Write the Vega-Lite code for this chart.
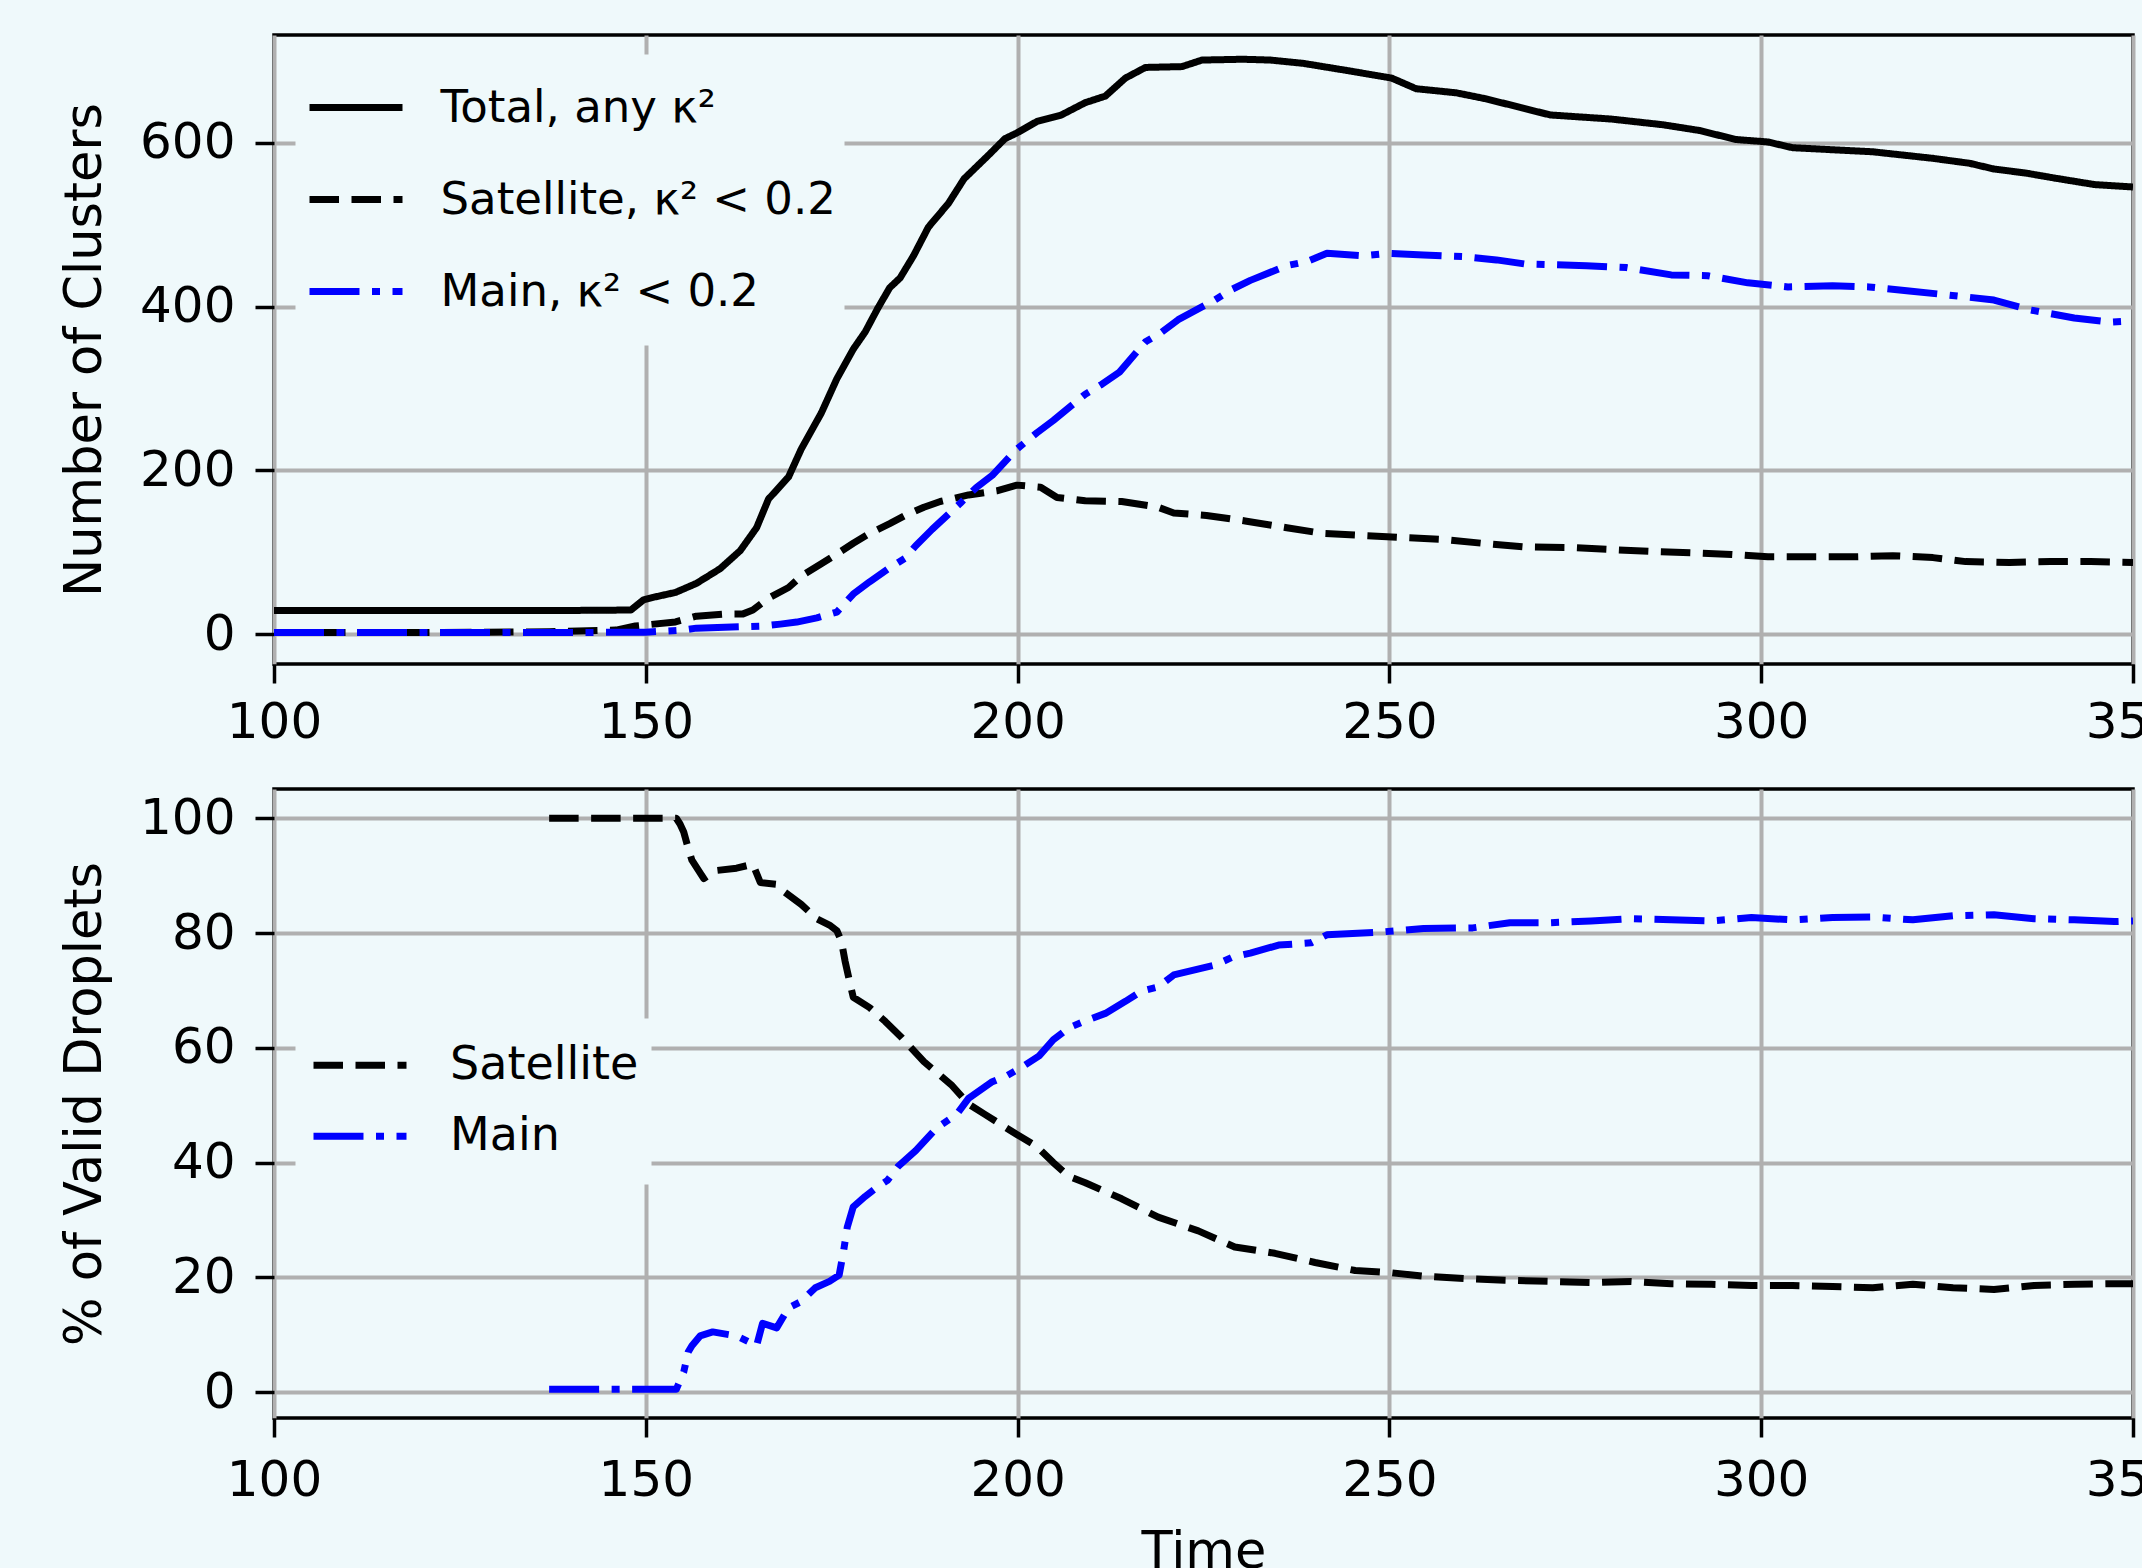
{
"$schema": "https://vega.github.io/schema/vega-lite/v6.json",
"autosize": {"type": "pad"},
"padding": {"left": 57, "top": 33, "right": -37, "bottom": -10},
"background": "#eff9fb",
"bounds": "flush",
"spacing": 125,
"config": {
  "font": "DejaVu Sans",
  "view": {"stroke": "black", "strokeWidth": 3.5},
  "axis": {
    "domain": false, "grid": true, "gridColor": "#b0b0b0", "gridWidth": 4,
    "ticks": true, "tickColor": "black", "tickWidth": 3.5, "tickSize": 19,
    "labelFont": "DejaVu Sans", "labelFontSize": 50, "labelColor": "black",
    "labelFlush": false, "labelOverlap": false, "labelBound": false,
    "titleFont": "DejaVu Sans", "titleFontSize": 51, "titleFontWeight": "normal", "titleColor": "black"
  },
  "axisY": {"labelPadding": 20, "titlePadding": 28},
  "legend": {"labelLimit": 0},
  "line": {"strokeWidth": 7, "strokeJoin": "round", "strokeCap": "butt"}
},
"datasets": {
  "top": [
    {"s":"Total, any κ²","t":100,"v":29},{"s":"Total, any κ²","t":120,"v":29},{"s":"Total, any κ²","t":140,"v":29},{"s":"Total, any κ²","t":148,"v":29.5},
    {"s":"Total, any κ²","t":149.7,"v":42},{"s":"Total, any κ²","t":151,"v":45},{"s":"Total, any κ²","t":154,"v":51},{"s":"Total, any κ²","t":156.8,"v":62},
    {"s":"Total, any κ²","t":160,"v":80},{"s":"Total, any κ²","t":162.7,"v":102},{"s":"Total, any κ²","t":164.9,"v":130},{"s":"Total, any κ²","t":166.5,"v":165},
    {"s":"Total, any κ²","t":169.2,"v":192},{"s":"Total, any κ²","t":170.9,"v":226},{"s":"Total, any κ²","t":173.6,"v":270},{"s":"Total, any κ²","t":175.7,"v":312},
    {"s":"Total, any κ²","t":177.9,"v":348},{"s":"Total, any κ²","t":179.5,"v":369},{"s":"Total, any κ²","t":181.2,"v":398},{"s":"Total, any κ²","t":182.8,"v":423},
    {"s":"Total, any κ²","t":184.2,"v":435},{"s":"Total, any κ²","t":186,"v":462},{"s":"Total, any κ²","t":188,"v":497},{"s":"Total, any κ²","t":190.7,"v":526},
    {"s":"Total, any κ²","t":192.8,"v":556},{"s":"Total, any κ²","t":196.1,"v":585},{"s":"Total, any κ²","t":198.3,"v":605},{"s":"Total, any κ²","t":199.9,"v":612},
    {"s":"Total, any κ²","t":202.6,"v":626},{"s":"Total, any κ²","t":205.9,"v":634},{"s":"Total, any κ²","t":209.1,"v":649},{"s":"Total, any κ²","t":211.8,"v":657},
    {"s":"Total, any κ²","t":214.5,"v":679},{"s":"Total, any κ²","t":217.2,"v":692},{"s":"Total, any κ²","t":222.1,"v":693},{"s":"Total, any κ²","t":224.8,"v":701},
    {"s":"Total, any κ²","t":230.3,"v":702},{"s":"Total, any κ²","t":234,"v":701},{"s":"Total, any κ²","t":238.4,"v":697},{"s":"Total, any κ²","t":243.8,"v":689},
    {"s":"Total, any κ²","t":250.3,"v":679},{"s":"Total, any κ²","t":253.6,"v":666},{"s":"Total, any κ²","t":259,"v":661},{"s":"Total, any κ²","t":262.8,"v":654},
    {"s":"Total, any κ²","t":267.7,"v":643},{"s":"Total, any κ²","t":271.6,"v":634},{"s":"Total, any κ²","t":279.8,"v":629},{"s":"Total, any κ²","t":286.8,"v":622},
    {"s":"Total, any κ²","t":291.7,"v":615},{"s":"Total, any κ²","t":296.6,"v":604},{"s":"Total, any κ²","t":300.9,"v":601},{"s":"Total, any κ²","t":304.2,"v":594},
    {"s":"Total, any κ²","t":315,"v":589},{"s":"Total, any κ²","t":323.1,"v":581},{"s":"Total, any κ²","t":328,"v":575},{"s":"Total, any κ²","t":331.3,"v":568},
    {"s":"Total, any κ²","t":335.6,"v":563},{"s":"Total, any κ²","t":339.4,"v":557},{"s":"Total, any κ²","t":344.8,"v":549},{"s":"Total, any κ²","t":350,"v":546},

    {"s":"Satellite, κ² < 0.2","t":100,"v":2},{"s":"Satellite, κ² < 0.2","t":120,"v":2},{"s":"Satellite, κ² < 0.2","t":137,"v":3},{"s":"Satellite, κ² < 0.2","t":146,"v":5},
    {"s":"Satellite, κ² < 0.2","t":148.6,"v":10},{"s":"Satellite, κ² < 0.2","t":154,"v":15},{"s":"Satellite, κ² < 0.2","t":156.8,"v":22},{"s":"Satellite, κ² < 0.2","t":160.6,"v":24.5},
    {"s":"Satellite, κ² < 0.2","t":163,"v":24.5},{"s":"Satellite, κ² < 0.2","t":164.4,"v":29.5},{"s":"Satellite, κ² < 0.2","t":166.5,"v":44},{"s":"Satellite, κ² < 0.2","t":169.2,"v":57},
    {"s":"Satellite, κ² < 0.2","t":170.9,"v":71},{"s":"Satellite, κ² < 0.2","t":173.6,"v":86},{"s":"Satellite, κ² < 0.2","t":175.7,"v":98},{"s":"Satellite, κ² < 0.2","t":177.9,"v":111},
    {"s":"Satellite, κ² < 0.2","t":180.1,"v":123},{"s":"Satellite, κ² < 0.2","t":182.8,"v":135},{"s":"Satellite, κ² < 0.2","t":184.9,"v":145},{"s":"Satellite, κ² < 0.2","t":187.4,"v":155},
    {"s":"Satellite, κ² < 0.2","t":189.6,"v":162},{"s":"Satellite, κ² < 0.2","t":193.4,"v":170},{"s":"Satellite, κ² < 0.2","t":197.2,"v":175},{"s":"Satellite, κ² < 0.2","t":199.9,"v":182},
    {"s":"Satellite, κ² < 0.2","t":203.1,"v":179.5},{"s":"Satellite, κ² < 0.2","t":205.3,"v":167},{"s":"Satellite, κ² < 0.2","t":209.1,"v":163},{"s":"Satellite, κ² < 0.2","t":214,"v":162},
    {"s":"Satellite, κ² < 0.2","t":218.9,"v":155},{"s":"Satellite, κ² < 0.2","t":221,"v":148},{"s":"Satellite, κ² < 0.2","t":225.4,"v":145},{"s":"Satellite, κ² < 0.2","t":230.8,"v":138},
    {"s":"Satellite, κ² < 0.2","t":236.2,"v":130},{"s":"Satellite, κ² < 0.2","t":241.1,"v":123},{"s":"Satellite, κ² < 0.2","t":246.5,"v":120.5},{"s":"Satellite, κ² < 0.2","t":251.9,"v":118},
    {"s":"Satellite, κ² < 0.2","t":257.4,"v":115.6},{"s":"Satellite, κ² < 0.2","t":262.8,"v":110.7},{"s":"Satellite, κ² < 0.2","t":268.2,"v":106.5},{"s":"Satellite, κ² < 0.2","t":274.3,"v":105.8},
    {"s":"Satellite, κ² < 0.2","t":279.8,"v":103.4},{"s":"Satellite, κ² < 0.2","t":285.2,"v":101},{"s":"Satellite, κ² < 0.2","t":290.6,"v":99.4},{"s":"Satellite, κ² < 0.2","t":296,"v":97.4},
    {"s":"Satellite, κ² < 0.2","t":300.9,"v":94.5},{"s":"Satellite, κ² < 0.2","t":306.9,"v":94.5},{"s":"Satellite, κ² < 0.2","t":312.3,"v":94.5},{"s":"Satellite, κ² < 0.2","t":317.7,"v":95.9},
    {"s":"Satellite, κ² < 0.2","t":323.1,"v":93.5},{"s":"Satellite, κ² < 0.2","t":327.5,"v":88.6},{"s":"Satellite, κ² < 0.2","t":333.4,"v":87.6},{"s":"Satellite, κ² < 0.2","t":338.9,"v":88.6},
    {"s":"Satellite, κ² < 0.2","t":344.3,"v":88.6},{"s":"Satellite, κ² < 0.2","t":350,"v":87.6},

    {"s":"Main, κ² < 0.2","t":100,"v":2},{"s":"Main, κ² < 0.2","t":120,"v":2},{"s":"Main, κ² < 0.2","t":140,"v":2},{"s":"Main, κ² < 0.2","t":150,"v":2.5},
    {"s":"Main, κ² < 0.2","t":155,"v":5},{"s":"Main, κ² < 0.2","t":156.8,"v":7.4},{"s":"Main, κ² < 0.2","t":165.7,"v":9.9},{"s":"Main, κ² < 0.2","t":168.1,"v":12.3},
    {"s":"Main, κ² < 0.2","t":170.3,"v":14.8},{"s":"Main, κ² < 0.2","t":173,"v":20},{"s":"Main, κ² < 0.2","t":175.7,"v":27},{"s":"Main, κ² < 0.2","t":177.9,"v":49},
    {"s":"Main, κ² < 0.2","t":180.1,"v":64},{"s":"Main, κ² < 0.2","t":182.8,"v":81},{"s":"Main, κ² < 0.2","t":184.9,"v":93},{"s":"Main, κ² < 0.2","t":186.3,"v":108},
    {"s":"Main, κ² < 0.2","t":188.5,"v":128},{"s":"Main, κ² < 0.2","t":192.3,"v":160},{"s":"Main, κ² < 0.2","t":194.5,"v":179.5},{"s":"Main, κ² < 0.2","t":196.6,"v":194},
    {"s":"Main, κ² < 0.2","t":199.9,"v":226},{"s":"Main, κ² < 0.2","t":202.6,"v":246},{"s":"Main, κ² < 0.2","t":204.8,"v":261},{"s":"Main, κ² < 0.2","t":209.1,"v":293},
    {"s":"Main, κ² < 0.2","t":211.3,"v":305},{"s":"Main, κ² < 0.2","t":213.7,"v":320},{"s":"Main, κ² < 0.2","t":217.2,"v":357},{"s":"Main, κ² < 0.2","t":219.4,"v":369},
    {"s":"Main, κ² < 0.2","t":221.6,"v":384},{"s":"Main, κ² < 0.2","t":226.5,"v":408},{"s":"Main, κ² < 0.2","t":228.6,"v":420},{"s":"Main, κ² < 0.2","t":231.3,"v":432},
    {"s":"Main, κ² < 0.2","t":236.2,"v":450},{"s":"Main, κ² < 0.2","t":238.9,"v":455},{"s":"Main, κ² < 0.2","t":241.6,"v":465},{"s":"Main, κ² < 0.2","t":246.5,"v":462},
    {"s":"Main, κ² < 0.2","t":249.8,"v":465},{"s":"Main, κ² < 0.2","t":254.6,"v":463},{"s":"Main, κ² < 0.2","t":260.1,"v":461},{"s":"Main, κ² < 0.2","t":264.4,"v":457},
    {"s":"Main, κ² < 0.2","t":268.2,"v":452},{"s":"Main, κ² < 0.2","t":276.5,"v":450},{"s":"Main, κ² < 0.2","t":281.9,"v":447.6},{"s":"Main, κ² < 0.2","t":287.9,"v":438.7},
    {"s":"Main, κ² < 0.2","t":292.8,"v":437.7},{"s":"Main, κ² < 0.2","t":298.2,"v":429},{"s":"Main, κ² < 0.2","t":303.6,"v":424},{"s":"Main, κ² < 0.2","t":309.6,"v":425.4},
    {"s":"Main, κ² < 0.2","t":314.5,"v":424},{"s":"Main, κ² < 0.2","t":319.9,"v":419},{"s":"Main, κ² < 0.2","t":325.3,"v":414},{"s":"Main, κ² < 0.2","t":331.3,"v":408},
    {"s":"Main, κ² < 0.2","t":336.1,"v":396},{"s":"Main, κ² < 0.2","t":342.1,"v":386},{"s":"Main, κ² < 0.2","t":347,"v":381},{"s":"Main, κ² < 0.2","t":350,"v":382.6}
  ],
  "bottom": [
    {"s":"Satellite","t":137,"v":100},{"s":"Satellite","t":145,"v":100},{"s":"Satellite","t":154.1,"v":100},{"s":"Satellite","t":154.6,"v":99},
    {"s":"Satellite","t":155.1,"v":97.6},{"s":"Satellite","t":155.7,"v":94.8},{"s":"Satellite","t":156.2,"v":92.7},{"s":"Satellite","t":157.8,"v":89.5},
    {"s":"Satellite","t":159.5,"v":90.9},{"s":"Satellite","t":162.2,"v":91.3},{"s":"Satellite","t":164.4,"v":92},{"s":"Satellite","t":165.4,"v":88.8},
    {"s":"Satellite","t":167.6,"v":88.5},{"s":"Satellite","t":168.7,"v":87.1},{"s":"Satellite","t":170.9,"v":85},{"s":"Satellite","t":173,"v":82.5},
    {"s":"Satellite","t":174.7,"v":81.4},{"s":"Satellite","t":175.7,"v":80.4},{"s":"Satellite","t":176.3,"v":78.6},{"s":"Satellite","t":176.8,"v":75.1},
    {"s":"Satellite","t":177.4,"v":71.6},{"s":"Satellite","t":177.9,"v":68.8},{"s":"Satellite","t":180.1,"v":67},{"s":"Satellite","t":182.2,"v":64.6},
    {"s":"Satellite","t":184.4,"v":61.8},{"s":"Satellite","t":187.4,"v":57.6},{"s":"Satellite","t":191.2,"v":53.4},{"s":"Satellite","t":193.4,"v":50.2},
    {"s":"Satellite","t":195.6,"v":48.4},{"s":"Satellite","t":199.9,"v":44.9},{"s":"Satellite","t":202.6,"v":42.8},{"s":"Satellite","t":204.8,"v":40},
    {"s":"Satellite","t":206.9,"v":37.6},{"s":"Satellite","t":209.1,"v":36.5},{"s":"Satellite","t":214,"v":33.7},{"s":"Satellite","t":218.9,"v":30.5},
    {"s":"Satellite","t":224.3,"v":28.1},{"s":"Satellite","t":229.2,"v":25.3},{"s":"Satellite","t":234.6,"v":24.2},{"s":"Satellite","t":240,"v":22.6},
    {"s":"Satellite","t":245.4,"v":21.2},{"s":"Satellite","t":250.3,"v":20.8},{"s":"Satellite","t":254.6,"v":20.2},{"s":"Satellite","t":260.1,"v":19.8},
    {"s":"Satellite","t":265.5,"v":19.5},{"s":"Satellite","t":271.6,"v":19.3},{"s":"Satellite","t":277.1,"v":19.1},{"s":"Satellite","t":282.5,"v":19.3},
    {"s":"Satellite","t":287.9,"v":18.9},{"s":"Satellite","t":293.3,"v":18.8},{"s":"Satellite","t":298.7,"v":18.6},{"s":"Satellite","t":304.2,"v":18.6},
    {"s":"Satellite","t":309.6,"v":18.4},{"s":"Satellite","t":315,"v":18.2},{"s":"Satellite","t":320.4,"v":18.8},{"s":"Satellite","t":325.8,"v":18.2},
    {"s":"Satellite","t":331.3,"v":17.9},{"s":"Satellite","t":336.7,"v":18.6},{"s":"Satellite","t":342.1,"v":18.8},{"s":"Satellite","t":347.5,"v":18.9},
    {"s":"Satellite","t":350,"v":18.9},

    {"s":"Main","t":137,"v":0.5},{"s":"Main","t":145,"v":0.5},{"s":"Main","t":154.1,"v":0.5},{"s":"Main","t":155.1,"v":3.5},
    {"s":"Main","t":155.7,"v":7},{"s":"Main","t":156.2,"v":8.1},{"s":"Main","t":157.3,"v":9.8},{"s":"Main","t":159,"v":10.5},
    {"s":"Main","t":162.2,"v":9.8},{"s":"Main","t":164.9,"v":8.1},{"s":"Main","t":165.7,"v":12},{"s":"Main","t":167.6,"v":11.2},
    {"s":"Main","t":169.2,"v":14.7},{"s":"Main","t":170.9,"v":15.8},{"s":"Main","t":172.8,"v":18.2},{"s":"Main","t":174.7,"v":19.3},
    {"s":"Main","t":176,"v":20.4},{"s":"Main","t":176.6,"v":24.6},{"s":"Main","t":177.1,"v":28.8},{"s":"Main","t":177.9,"v":32.3},
    {"s":"Main","t":179.5,"v":34.1},{"s":"Main","t":181.2,"v":35.8},{"s":"Main","t":182.5,"v":36.9},{"s":"Main","t":183.9,"v":39.3},
    {"s":"Main","t":186.3,"v":42.1},{"s":"Main","t":189.1,"v":46},{"s":"Main","t":191.8,"v":48.4},{"s":"Main","t":193.4,"v":51.2},
    {"s":"Main","t":196.6,"v":54.1},{"s":"Main","t":198.5,"v":55.1},{"s":"Main","t":200.4,"v":56.5},{"s":"Main","t":202.9,"v":58.6},
    {"s":"Main","t":204.8,"v":61.4},{"s":"Main","t":206.9,"v":63.5},{"s":"Main","t":209.1,"v":64.7},{"s":"Main","t":211.8,"v":66},
    {"s":"Main","t":214.5,"v":68.1},{"s":"Main","t":216.7,"v":69.9},{"s":"Main","t":218.9,"v":70.6},{"s":"Main","t":221,"v":72.7},
    {"s":"Main","t":226.5,"v":74.4},{"s":"Main","t":228.9,"v":75.8},{"s":"Main","t":231.3,"v":76.5},{"s":"Main","t":235.1,"v":77.9},
    {"s":"Main","t":239.5,"v":78.3},{"s":"Main","t":241.6,"v":79.7},{"s":"Main","t":248.1,"v":80.1},{"s":"Main","t":254.6,"v":80.8},
    {"s":"Main","t":261.2,"v":80.9},{"s":"Main","t":266.2,"v":81.8},{"s":"Main","t":271.6,"v":81.8},{"s":"Main","t":277.1,"v":82.1},
    {"s":"Main","t":282.5,"v":82.5},{"s":"Main","t":287.9,"v":82.3},{"s":"Main","t":293.3,"v":82.1},{"s":"Main","t":298.7,"v":82.7},
    {"s":"Main","t":304.2,"v":82.3},{"s":"Main","t":309.6,"v":82.7},{"s":"Main","t":315,"v":82.8},{"s":"Main","t":320.4,"v":82.3},
    {"s":"Main","t":325.8,"v":83},{"s":"Main","t":331.3,"v":83.2},{"s":"Main","t":336.7,"v":82.5},{"s":"Main","t":342.1,"v":82.3},
    {"s":"Main","t":347.5,"v":82},{"s":"Main","t":350,"v":82.1}
  ]
},
"vconcat": [
  {
    "width": 1859, "height": 629,
    "data": {"name": "top"},
    "mark": {"type": "line", "clip": true},
    "encoding": {
      "x": {"field": "t", "type": "quantitative", "scale": {"domain": [100, 350], "nice": false, "zero": false},
            "axis": {"title": null, "values": [100,150,200,250,300,350], "format": "d", "labelPadding": 14}},
      "y": {"field": "v", "type": "quantitative", "scale": {"domain": [-36.4, 731.6], "nice": false, "zero": false},
            "axis": {"title": "Number of Clusters", "values": [0,200,400,600], "format": "d"}},
      "color": {"field": "s", "type": "nominal",
        "scale": {"domain": ["Total, any κ²", "Satellite, κ² < 0.2", "Main, κ² < 0.2"], "range": ["#000000", "#000000", "#0000ff"]},
        "legend": {"title": null, "orient": "none", "legendX": 21, "legendY": 19, "symbolType": "stroke", "symbolSize": 8649, "symbolStrokeWidth": 7,
          "labelFontSize": 45, "labelFont": "DejaVu Sans", "labelColor": "black", "labelLimit": 0, "fillColor": "#eff9fb", "strokeColor": "transparent",
          "padding": 7.5, "clipHeight": 92, "symbolOffset": 3.5, "labelOffset": 34.5, "rowPadding": 0}},
      "strokeDash": {"field": "s", "type": "nominal",
        "scale": {"domain": ["Total, any κ²", "Satellite, κ² < 0.2", "Main, κ² < 0.2"], "range": [[1, 0], [29.5, 12.5], [50, 12.5, 8, 12.5]]},
        "legend": {"title": null, "orient": "none", "legendX": 21, "legendY": 19, "symbolType": "stroke", "symbolSize": 8649, "symbolStrokeWidth": 7,
          "labelFontSize": 45, "labelFont": "DejaVu Sans", "labelColor": "black", "labelLimit": 0, "fillColor": "#eff9fb", "strokeColor": "transparent",
          "padding": 7.5, "clipHeight": 92, "symbolOffset": 3.5, "labelOffset": 34.5, "rowPadding": 0}}
    }
  },
  {
    "width": 1859, "height": 629,
    "data": {"name": "bottom"},
    "mark": {"type": "line", "clip": true},
    "encoding": {
      "x": {"field": "t", "type": "quantitative", "scale": {"domain": [100, 350], "nice": false, "zero": false},
            "axis": {"title": "Time", "values": [100,150,200,250,300,350], "format": "d", "labelPadding": 18, "titlePadding": 22}},
      "y": {"field": "v", "type": "quantitative", "scale": {"domain": [-4.5, 105.1], "nice": false, "zero": false},
            "axis": {"title": "% of Valid Droplets", "values": [0,20,40,60,80,100], "format": "d"}},
      "color": {"field": "s", "type": "nominal",
        "scale": {"domain": ["Satellite", "Main"], "range": ["#000000", "#0000ff"]},
        "legend": {"title": null, "orient": "none", "legendX": 21, "legendY": 229, "symbolType": "stroke", "symbolSize": 8649, "symbolStrokeWidth": 7,
          "labelFontSize": 46, "labelFont": "DejaVu Sans", "labelColor": "black", "labelLimit": 0, "fillColor": "#eff9fb", "strokeColor": "transparent",
          "padding": 12, "clipHeight": 70.5, "symbolOffset": 3, "labelOffset": 40, "rowPadding": 0}},
      "strokeDash": {"field": "s", "type": "nominal",
        "scale": {"domain": ["Satellite", "Main"], "range": [[29.5, 12.5], [50, 12.5, 8, 12.5]]},
        "legend": {"title": null, "orient": "none", "legendX": 21, "legendY": 229, "symbolType": "stroke", "symbolSize": 8649, "symbolStrokeWidth": 7,
          "labelFontSize": 46, "labelFont": "DejaVu Sans", "labelColor": "black", "labelLimit": 0, "fillColor": "#eff9fb", "strokeColor": "transparent",
          "padding": 12, "clipHeight": 70.5, "symbolOffset": 3, "labelOffset": 40, "rowPadding": 0}}
    }
  }
],
"resolve": {"scale": {"x": "independent", "y": "independent", "color": "independent", "strokeDash": "independent"},
            "legend": {"color": "independent", "strokeDash": "independent"}}
}
